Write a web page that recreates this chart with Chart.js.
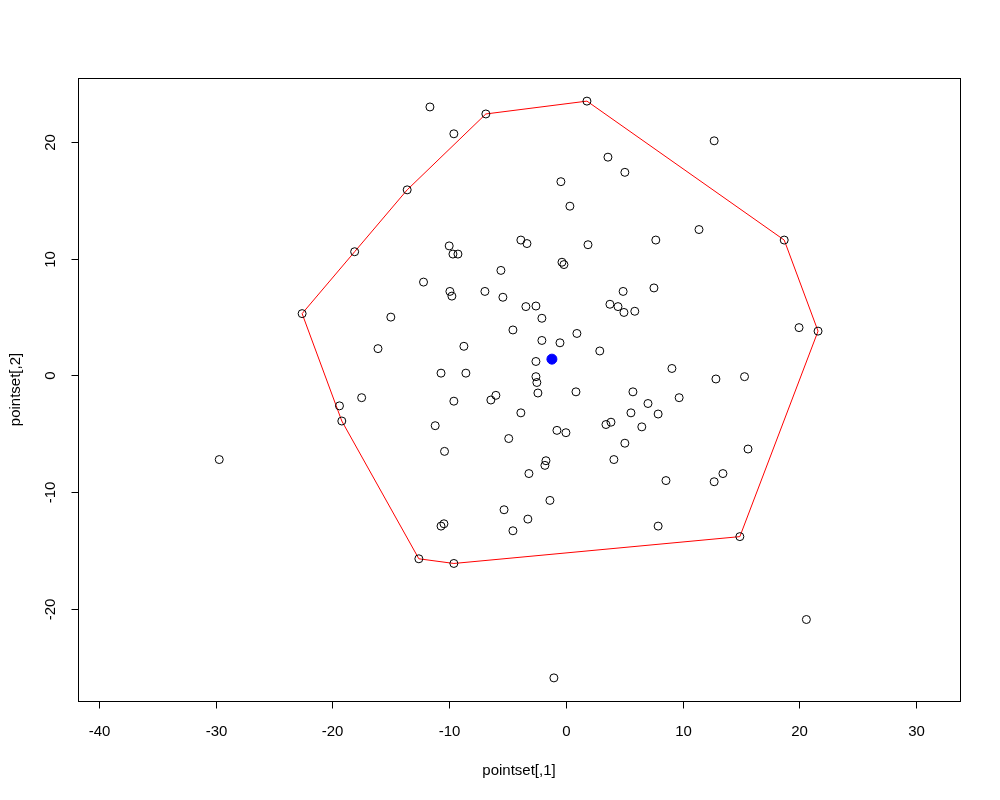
<!DOCTYPE html>
<html><head><meta charset="utf-8">
<script src="https://cdn.jsdelivr.net/npm/chart.js@4"></script>
<style>html,body{margin:0;padding:0;background:#fff}#w{width:1000px;height:800px}</style>
</head><body><div id="w"><canvas id="c"></canvas></div>
<script>
const hullX = [1.8,-6.86,-13.6,-18.1,-22.6,-19.2,-12.6,-9.6,14.9,21.6,18.7,1.8];
const hullY = [23.5,22.4,15.9,10.6,5.3,-3.9,-15.7,-16.1,-13.8,3.8,11.6,23.5];
const ptX = [-11.65,-9.6,12.7,3.6,5.05,-0.43,0.34,-10.0,-3.86,-3.34,1.89,-9.68,-9.25,-0.34,-0.17,11.4,7.7,-5.57,-12.2,-9.94,-6.94,-5.4,-9.77,7.54,3.77,4.46,4.97,4.9,5.9,-15.0,-3.43,-2.57,-2.06,-4.54,-16.1,-8.74,-2.06,0.94,2.9,-0.51,-2.57,-10.7,-8.57,9.08,-2.57,-2.49,15.3,12.85,-6.0,-2.4,0.86,5.74,-17.5,-19.4,-6.43,-9.6,9.7,7.03,5.57,-3.86,7.9,3.86,3.43,-11.2,6.5,-0.77,0,-4.9,5.05,-10.4,15.6,-1.71,-1.8,4.11,13.45,-3.17,8.57,12.7,-29.7,-1.37,-5.3,-3.26,-10.7,-10.45,-4.54,7.9,20.6,-1.03,19.97];
const ptY = [23.0,20.7,20.1,18.7,17.4,16.6,14.5,11.1,11.6,11.3,11.2,10.4,10.4,9.7,9.5,12.5,11.6,9.0,8.0,7.2,7.2,6.7,6.8,7.5,6.1,5.9,5.4,7.2,5.5,5.0,5.9,5.95,4.9,3.9,2.3,2.5,3.0,3.6,2.1,2.8,1.2,0.2,0.2,0.6,-0.1,-0.6,-0.1,-0.3,-1.7,-1.5,-1.4,-1.4,-1.9,-2.6,-2.1,-2.2,-1.9,-2.4,-3.2,-3.2,-3.3,-4.0,-4.2,-4.3,-4.4,-4.7,-4.9,-5.4,-5.8,-6.5,-6.3,-7.3,-7.7,-7.2,-8.4,-8.4,-9.0,-9.1,-7.2,-10.7,-11.5,-12.3,-12.9,-12.7,-13.3,-12.9,-20.9,-25.9,4.1];
const centerX = [-1.2], centerY = [1.4];
const xTicks = [-40,-30,-20,-10,0,10,20,30];
const yTicks = [-20,-10,0,10,20];
const xTitle = 'pointset[,1]', yTitle = 'pointset[,2]';

const zip = (a,b)=>a.map((v,i)=>({x:v,y:b[i]}));
const allX = ptX.concat(hullX.slice(0,-1)), allY = ptY.concat(hullY.slice(0,-1));
const FONT = '15px "Liberation Sans", Arial, sans-serif';

const axisPlugin = {
  id:'raxes',
  afterDraw(chart){
    const ctx=chart.ctx, a=chart.chartArea, xs=chart.scales.x, ys=chart.scales.y;
    ctx.save();
    ctx.strokeStyle='#000'; ctx.lineWidth=1; ctx.fillStyle='#000'; ctx.font=FONT;
    ctx.strokeRect(a.left+0.5,a.top+0.5,a.right-a.left,a.bottom-a.top);
    const by=a.bottom+0.5;
    ctx.beginPath();
    ctx.moveTo(xs.getPixelForValue(xTicks[0]),by); ctx.lineTo(xs.getPixelForValue(xTicks[xTicks.length-1]),by);
    ctx.textAlign='center'; ctx.textBaseline='middle';
    xTicks.forEach(t=>{const p=Math.round(xs.getPixelForValue(t))+0.5; ctx.moveTo(p,by); ctx.lineTo(p,by+7); ctx.fillText(String(t),p,by+30);});
    const lx=a.left+0.5;
    ctx.moveTo(lx,ys.getPixelForValue(yTicks[0])); ctx.lineTo(lx,ys.getPixelForValue(yTicks[yTicks.length-1]));
    yTicks.forEach(t=>{const p=Math.round(ys.getPixelForValue(t))+0.5; ctx.moveTo(lx,p); ctx.lineTo(lx-7,p);
      ctx.save(); ctx.translate(lx-28,p); ctx.rotate(-Math.PI/2); ctx.fillText(String(t),0,0); ctx.restore();});
    ctx.stroke();
    ctx.fillText(xTitle,(a.left+a.right)/2,771);
    ctx.save(); ctx.translate(16,(a.top+a.bottom)/2); ctx.rotate(-Math.PI/2); ctx.fillText(yTitle,0,0); ctx.restore();
    ctx.restore();
  }
};

new Chart(document.getElementById('c'),{
  type:'scatter',
  data:{datasets:[
    {data:zip(hullX,hullY),showLine:true,borderColor:'#ff0000',borderWidth:1,pointRadius:0,fill:false,order:3},
    {data:zip(allX,allY),pointRadius:4,pointBorderColor:'#000',pointBackgroundColor:'rgba(0,0,0,0)',pointBorderWidth:1,order:2},
    {data:zip(centerX,centerY),pointRadius:5,pointBorderColor:'#0000ff',pointBackgroundColor:'#0000ff',order:1}
  ]},
  options:{
    responsive:true,maintainAspectRatio:false,animation:false,
    layout:{padding:{left:78,right:40,top:78,bottom:99}},
    plugins:{legend:{display:false},tooltip:{enabled:false}},
    scales:{
      x:{type:'linear',display:false,min:-41.8,max:33.76},
      y:{type:'linear',display:false,min:-27.88,max:25.48}
    }
  },
  plugins:[axisPlugin]
});
</script></body></html>
